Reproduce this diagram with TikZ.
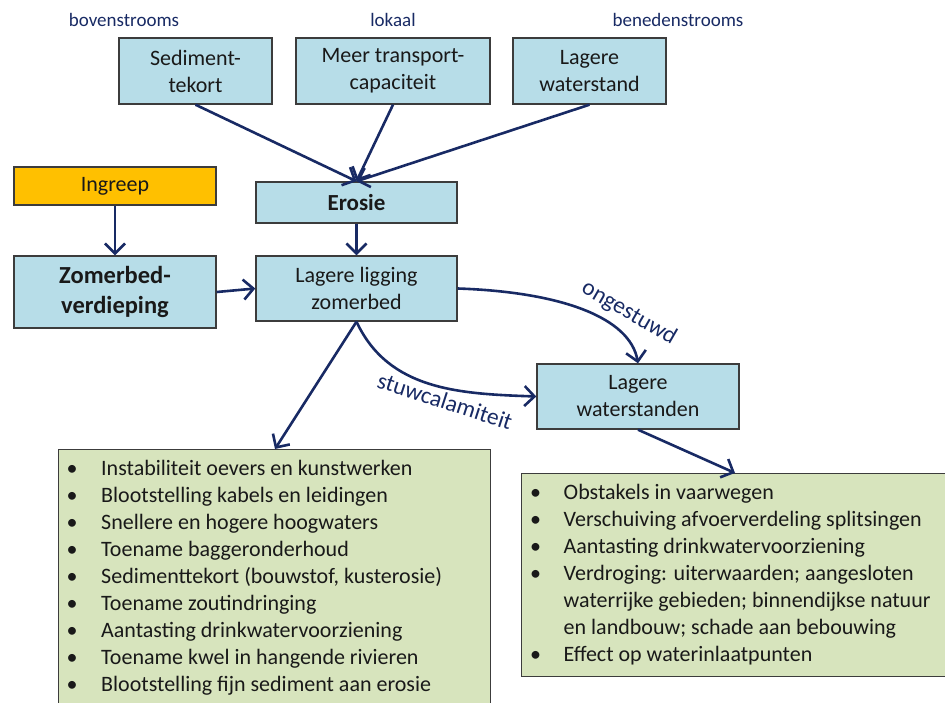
\documentclass[tikz,border=0pt]{standalone}
\usepackage{fontspec}
\setmainfont{Carlito}
\usetikzlibrary{arrows.meta}
\definecolor{navy}{RGB}{24,42,100}
\definecolor{boxblue}{RGB}{183,221,232}
\definecolor{boxorange}{RGB}{255,192,0}
\definecolor{boxgreen}{RGB}{215,228,189}
\definecolor{boxedge}{RGB}{60,60,60}
\definecolor{txt}{RGB}{25,25,25}
\begin{document}
\begin{tikzpicture}[x=1pt,y=1pt,
  bx/.style={draw=boxedge, line width=1.4pt, fill=boxblue, align=center, inner sep=0pt, text=txt, font=\fontsize{22}{27}\selectfont},
  gb/.style={draw=boxedge, line width=1.4pt, fill=boxgreen, inner sep=0pt},
  lst/.style={align=left, inner sep=0pt, text=txt, font=\fontsize{22}{27}\selectfont},
  lab/.style={text=navy, inner sep=0pt, font=\fontsize{23.5}{28}\selectfont},
  toplab/.style={text=navy, inner sep=0pt, anchor=base, font=\fontsize{19}{23}\selectfont},
  arr/.style={draw=navy, line width=2.6pt, -{Straight Barb[length=10pt,width=20pt,line width=2.6pt]}},
]
\useasboundingbox (0,0) rectangle (945,702);
\clip (0,0) rectangle (945,702);
% top labels
\node[toplab] (bov) at (124,675) {bovenstrooms};
\node[toplab] (lok) at (393,675) {lokaal};
\node[toplab] (ben) at (678,675) {benedenstrooms};
% boxes
\node[bx, minimum width=153pt, minimum height=66pt] (sed) at (195.5,631) {Sediment-\\tekort};
\node[bx, minimum width=194pt, minimum height=66pt] (meer) at (393,631) {Meer transport-\\capaciteit};
\node[bx, minimum width=153pt, minimum height=66pt] (lws) at (589.5,631) {Lagere\\waterstand};
\node[bx, fill=boxorange, minimum width=202pt, minimum height=38pt] (ing) at (115,516) {Ingreep};
\node[bx, minimum width=201pt, minimum height=41pt, font=\fontsize{23}{28}\selectfont\bfseries] (ero) at (356.5,499.5) {Erosie};
\node[bx, minimum width=202pt, minimum height=72pt, font=\fontsize{24.5}{30}\selectfont\bfseries] (zom) at (115,410) {Zomerbed-\\verdieping};
\node[bx, minimum width=201pt, minimum height=65pt] (lig) at (356.5,413.5) {Lagere ligging\\zomerbed};
\node[bx, minimum width=202pt, minimum height=65pt] (lwn) at (638,305.5) {Lagere\\waterstanden};
% effect boxes
\node[gb, anchor=north west, minimum width=432pt, minimum height=270pt] (effL) at (58,253) {};
\node[gb, anchor=north west, minimum width=440pt, minimum height=203pt] (effR) at (521,229) {};
\node[lst, anchor=north west] (listL) at (72,245.2) {\strut\makebox[0pt]{\textbullet}\hspace{29pt}Instabiliteit oevers en kunstwerken\\
\makebox[0pt]{\textbullet}\hspace{29pt}Blootstelling kabels en leidingen\\
\makebox[0pt]{\textbullet}\hspace{29pt}Snellere en hogere hoogwaters\\
\makebox[0pt]{\textbullet}\hspace{29pt}Toename baggeronderhoud\\
\makebox[0pt]{\textbullet}\hspace{29pt}Sedimenttekort (bouwstof, kusterosie)\\
\makebox[0pt]{\textbullet}\hspace{29pt}Toename zoutindringing\\
\makebox[0pt]{\textbullet}\hspace{29pt}Aantasting drinkwatervoorziening\\
\makebox[0pt]{\textbullet}\hspace{29pt}Toename kwel in hangende rivieren\\
\makebox[0pt]{\textbullet}\hspace{29pt}Blootstelling fijn sediment aan erosie};
\node[lst, anchor=north west] (listR) at (535.5,221.6) {\strut\makebox[0pt]{\textbullet}\hspace{28pt}Obstakels in vaarwegen\\
\makebox[0pt]{\textbullet}\hspace{28pt}Verschuiving afvoerverdeling splitsingen\\
\makebox[0pt]{\textbullet}\hspace{28pt}Aantasting drinkwatervoorziening\\
\makebox[0pt]{\textbullet}\hspace{28pt}Verdroging: uiterwaarden; aangesloten\\
\hspace*{28pt}waterrijke gebieden; binnendijkse natuur\\
\hspace*{28pt}en landbouw; schade aan bebouwing\\
\makebox[0pt]{\textbullet}\hspace{28pt}Effect op waterinlaatpunten};
% curve labels
\node[lab, rotate=-30] (ong) at (629,389) {ongestuwd};
\node[lab, rotate=-18] (stu) at (445,301) {stuwcalamiteit};
% connectors
\coordinate (effLtop) at (275,253);
\coordinate (effRtop) at (735,229);
\draw[arr] (sed.south) -- (ero.north);
\draw[arr] (meer.south) -- (ero.north);
\draw[arr] (lws.south) -- (ero.north);
\draw[arr] (ing.south) -- (zom.north);
\draw[arr] (ero.south) -- (lig.north);
\draw[arr] (zom.east) -- (lig.west);
\draw[arr] (lig.east) .. controls +(103,-3.5) and +(-8,46) .. (lwn.north);
\draw[arr] (lig.south) to[out=-65,in=178] (lwn.west);
\draw[arr] (lig.south) -- (effLtop);
\draw[arr] (lwn.south) -- (effRtop);
\end{tikzpicture}
\end{document}
